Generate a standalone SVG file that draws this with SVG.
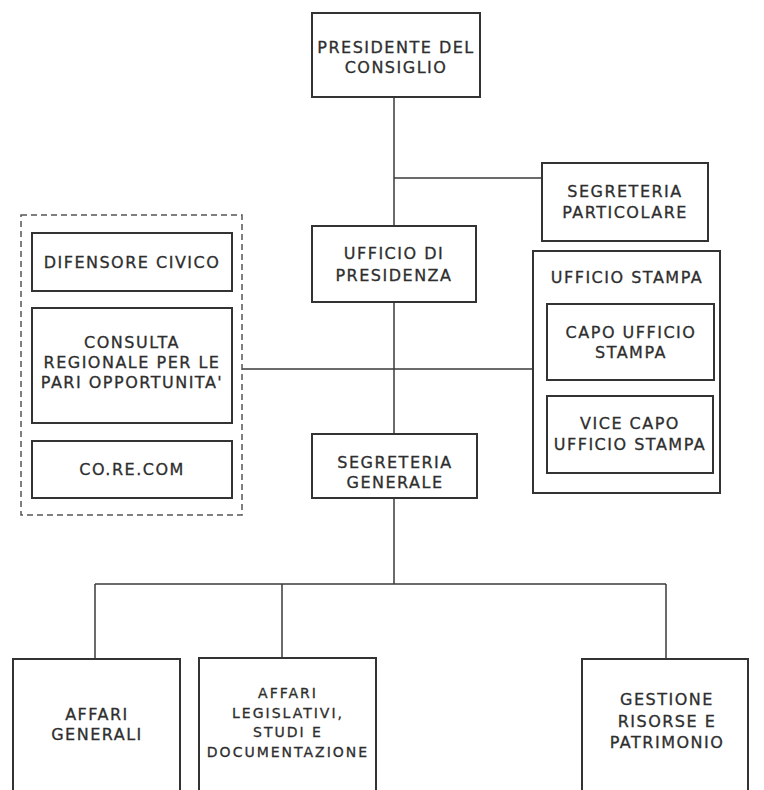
<svg xmlns="http://www.w3.org/2000/svg" width="764" height="790" viewBox="0 0 764 790">
<style>
.box{fill:#fff;stroke:#333;stroke-width:2}
.dash{fill:none;stroke:#555;stroke-width:1.5;stroke-dasharray:6 4}
.con{fill:none;stroke:#3a3a3a;stroke-width:1.5}
text{font-family:"DejaVu Sans","Liberation Sans",sans-serif;font-size:16px;fill:#2e2e2e;stroke:#2e2e2e;stroke-width:0.3;text-anchor:middle;letter-spacing:1.5px}
.sm{font-size:14px;letter-spacing:2px}
</style>
<rect width="764" height="790" fill="#fff"/>
<g id="connectors">
<path class="con" d="M394 97V434"/>
<path class="con" d="M394 178H542"/>
<path class="con" d="M242 369H533"/>
<path class="con" d="M394 498V584"/>
<path class="con" d="M95 584H666"/>
<path class="con" d="M95 584V659"/>
<path class="con" d="M282 584V658"/>
<path class="con" d="M666 584V659"/>
</g>
<g id="presidente">
<rect class="box" x="312" y="13" width="168" height="84"/>
<text x="396" y="53">PRESIDENTE DEL</text>
<text x="396" y="73">CONSIGLIO</text>
</g>
<g id="segreteria-particolare">
<rect class="box" x="542" y="163" width="166" height="78"/>
<text x="625" y="197">SEGRETERIA</text>
<text x="625" y="218">PARTICOLARE</text>
</g>
<g id="ufficio-presidenza">
<rect class="box" x="312" y="226" width="164" height="76"/>
<text x="394" y="259">UFFICIO DI</text>
<text x="394" y="281">PRESIDENZA</text>
</g>
<g id="ufficio-stampa">
<rect class="box" x="533" y="251" width="187" height="242"/>
<text x="627" y="283">UFFICIO STAMPA</text>
</g>
<g id="capo-ufficio-stampa">
<rect class="box" x="547" y="304" width="167" height="76"/>
<text x="631" y="338">CAPO UFFICIO</text>
<text x="631" y="358">STAMPA</text>
</g>
<g id="vice-capo-ufficio-stampa">
<rect class="box" x="547" y="396" width="166" height="77"/>
<text x="630" y="429">VICE CAPO</text>
<text x="630" y="450">UFFICIO STAMPA</text>
</g>
<g id="organi-garanzia">
<rect class="dash" x="21" y="215" width="221" height="300"/>
</g>
<g id="difensore-civico">
<rect class="box" x="32" y="233" width="200" height="58"/>
<text x="132" y="268">DIFENSORE CIVICO</text>
</g>
<g id="consulta">
<rect class="box" x="32" y="308" width="200" height="115"/>
<text x="132" y="348">CONSULTA</text>
<text x="132" y="368">REGIONALE PER LE</text>
<text x="132" y="388">PARI OPPORTUNITA'</text>
</g>
<g id="corecom">
<rect class="box" x="32" y="441" width="200" height="57"/>
<text x="132" y="475">CO.RE.COM</text>
</g>
<g id="segreteria-generale">
<rect class="box" x="312" y="434" width="165" height="64"/>
<text x="395" y="468">SEGRETERIA</text>
<text x="395" y="488">GENERALE</text>
</g>
<g id="affari-generali">
<rect class="box" x="13" y="659" width="167" height="145"/>
<text x="97" y="720">AFFARI</text>
<text x="97" y="740">GENERALI</text>
</g>
<g id="affari-legislativi">
<rect class="box" x="199" y="658" width="177" height="146"/>
<text class="sm" x="288" y="698">AFFARI</text>
<text class="sm" x="288" y="718">LEGISLATIVI,</text>
<text class="sm" x="288" y="737">STUDI E</text>
<text class="sm" x="288" y="757">DOCUMENTAZIONE</text>
</g>
<g id="gestione-risorse">
<rect class="box" x="582" y="659" width="166" height="145"/>
<text x="667" y="705">GESTIONE</text>
<text x="667" y="727">RISORSE E</text>
<text x="667" y="748">PATRIMONIO</text>
</g>
</svg>
